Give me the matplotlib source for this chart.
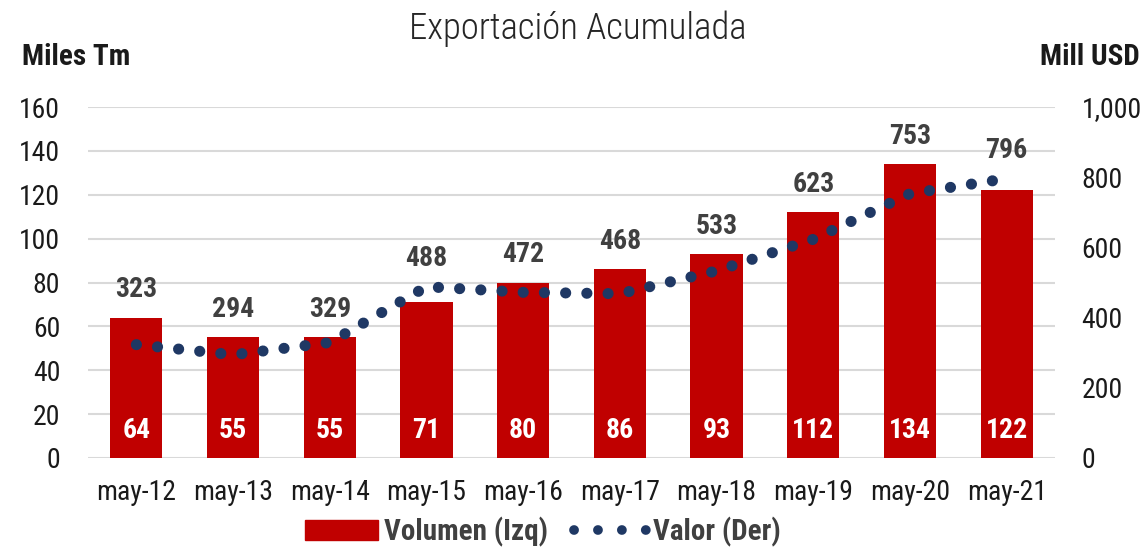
import numpy as np
import matplotlib.pyplot as plt
from matplotlib.patches import Patch
from matplotlib.lines import Line2D
from matplotlib.ticker import FuncFormatter

plt.rcParams['font.family'] = ['Roboto Condensed', 'DejaVu Sans']

meses = ['may-12', 'may-13', 'may-14', 'may-15', 'may-16',
         'may-17', 'may-18', 'may-19', 'may-20', 'may-21']
volumen = [64, 55, 55, 71, 80, 86, 93, 112, 134, 122]   # miles Tm
valor = [323, 294, 329, 488, 472, 468, 533, 623, 753, 796]  # mill USD

rojo = '#c00000'
azul = '#1f3864'
gris = '#404040'

fig = plt.figure(figsize=(11.47, 5.47), dpi=100)
ax = fig.add_axes([88/1147, 89/547, 967/1147, 351/547])
ax2 = ax.twinx()

x = np.arange(len(meses))
ax.bar(x, volumen, width=0.54, color=rojo, zorder=2)
ax2.plot(x, valor, color=azul, lw=8, linestyle=(0, (0.01, 1.9)),
         dash_capstyle='round', zorder=3)

ax.set_xlim(-0.5, len(meses) - 0.5)
ax.set_ylim(0, 160)
ax2.set_ylim(0, 1000)
ax.set_yticks(range(0, 161, 20))
ax2.set_yticks(range(0, 1001, 200))
ax2.yaxis.set_major_formatter(FuncFormatter(lambda v, p: f'{v:,.0f}'))
ax.grid(axis='y', color='#d9d9d9', lw=1.5, zorder=0)
ax.set_axisbelow(True)

for a in (ax, ax2):
    for s in a.spines.values():
        s.set_visible(False)
    a.tick_params(length=0, labelsize=20, colors='#1a1a1a')
ax.tick_params(axis='y', pad=20)
ax2.tick_params(axis='y', pad=19)
ax.tick_params(axis='x', pad=15)
ax.set_xticks(x)
ax.set_xticklabels(meses)

# etiquetas de datos
for i in x:
    top = max(volumen[i] / 160, valor[i] / 1000)
    ax.annotate(str(valor[i]), (i, top), xycoords=('data', 'axes fraction'),
                xytext=(0, 20), textcoords='offset points', ha='center', va='center',
                fontsize=20, fontweight='bold', color=gris, zorder=5)
    ax.annotate(str(volumen[i]), (i, 0), xycoords=('data', 'axes fraction'),
                xytext=(0, 20), textcoords='offset points', ha='center', va='center',
                fontsize=20, fontweight='bold', color='white', zorder=5)

fig.text(0.504, 0.948, 'Exportación Acumulada', ha='center', va='center',
         fontsize=26.5, fontweight='light', color='#262626')
fig.text(22/1147, 0.895, 'Miles Tm', ha='left', va='center',
         fontsize=21, fontweight='bold', color='#1a1a1a')
fig.text(1140/1147, 0.895, 'Mill USD', ha='right', va='center',
         fontsize=21, fontweight='bold', color='#1a1a1a')

handles = [Patch(color=rojo),
           Line2D([0], [0], color=azul, lw=7, linestyle=(0, (0.01, 2.45)),
                  dash_capstyle='round')]
leg = fig.legend(handles, ['Volumen (Izq)', 'Valor (Der)'], loc='center',
                 bbox_to_anchor=(0.473, 0.028), ncol=2, frameon=False,
                 handlelength=2.5, handleheight=0.7, columnspacing=0.9,
                 handletextpad=0.2,
                 prop={'size': 21, 'weight': 'bold'})
for t in leg.get_texts():
    t.set_color(gris)

fig.savefig('out.png', dpi=100)
